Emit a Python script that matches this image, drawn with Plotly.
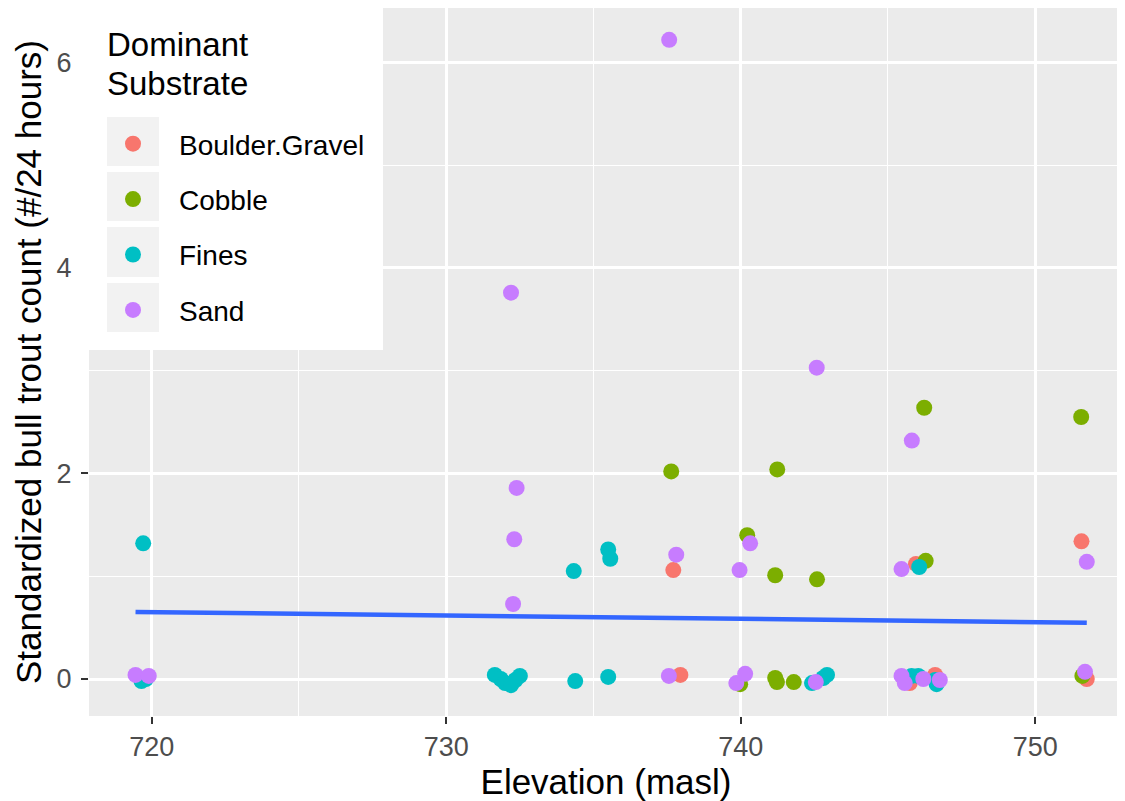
import plotly.graph_objects as go

# ---- data ----
substrates = ["Boulder.Gravel", "Cobble", "Fines", "Sand"]
colors = ["#F8766D", "#7CAE00", "#00BFC4", "#C77CFF"]

boulder_x = [737.71, 737.95, 745.95, 751.57, 745.74, 746.60, 751.75]
boulder_y = [1.06, 0.04, 1.12, 1.34, -0.04, 0.04, 0.00]

cobble_x = [737.64, 740.22, 741.24, 741.17, 742.59, 739.98, 741.17, 741.23, 741.80,
            746.23, 751.56, 746.28, 751.60]
cobble_y = [2.02, 1.40, 2.04, 1.01, 0.97, -0.05, 0.01, -0.03, -0.03,
            2.64, 2.55, 1.15, 0.03]

fines_x = [719.71, 719.65, 719.80, 731.65, 731.85, 732.00, 732.20, 732.35, 732.50,
           734.33, 735.50, 735.57, 734.38, 735.50, 742.42, 742.80, 742.93,
           746.06, 745.80, 746.03, 746.60, 746.65]
fines_y = [1.32, -0.02, 0.00, 0.04, 0.00, -0.04, -0.06, -0.01, 0.03,
           1.05, 1.26, 1.17, -0.02, 0.02, -0.04, 0.01, 0.04,
           1.09, 0.03, 0.03, -0.01, -0.05]

sand_x = [737.57, 732.20, 742.58, 745.81, 732.39, 732.31, 732.27, 737.81, 739.96,
          740.32, 745.46, 751.75, 719.45, 719.90, 737.56, 739.85, 740.15, 742.55,
          745.46, 745.57, 746.20, 746.76, 751.69]
sand_y = [6.22, 3.76, 3.03, 2.32, 1.86, 1.36, 0.73, 1.21, 1.06,
          1.32, 1.07, 1.14, 0.04, 0.03, 0.03, -0.04, 0.05, -0.03,
          0.03, -0.04, 0.00, -0.01, 0.07]

fit_x = [719.45, 751.75]
fit_y = [0.652, 0.548]

x_ticks = [720, 730, 740, 750]
y_ticks = [0, 2, 4, 6]

series_x = [boulder_x, cobble_x, fines_x, sand_x]
series_y = [boulder_y, cobble_y, fines_y, sand_y]

# ---- layout helpers: page pixels (page has an 8px body margin) -> paper ----
OFF = 8
W, H = 1125 - OFF, 801 - OFF
PL, PR, PT, PB = 89, 1123, 8, 716   # plot area in page pixels
def fx(px):
    return (px - PL) / (PR - PL)
def fy(py):
    return (PB - py) / (PB - PT)

fig = go.Figure()
for name, c, xs, ys in zip(substrates, colors, series_x, series_y):
    fig.add_trace(go.Scatter(x=xs, y=ys, mode="markers", name=name,
                             legendgroup=name,
                             marker=dict(color=c, size=16, line=dict(width=0))))

fig.add_trace(go.Scatter(x=fit_x, y=fit_y, mode="lines", showlegend=False,
                         line=dict(color="#3366FF", width=4.5)))

shapes = [dict(type="rect", xref="paper", yref="paper", x0=fx(80), x1=fx(383),
               y0=fy(350), y1=fy(6), fillcolor="white", line=dict(width=0), layer="above")]
for top, bot in [(117, 166), (172, 221), (227, 277), (283, 332)]:
    shapes.append(dict(type="rect", xref="paper", yref="paper", x0=fx(107), x1=fx(159),
                       y0=fy(bot), y1=fy(top), fillcolor="#F2F2F2", line=dict(width=0),
                       layer="above"))

title_lines = [("Dominant", 44.5), ("Substrate", 83.5)]
annotations = [dict(text=t, xref="paper", yref="paper", x=fx(105), y=fy(yc),
                    xanchor="left", yanchor="middle", align="left", showarrow=False,
                    font=dict(size=33, color="black"))
               for t, yc in title_lines]

font_family = "Liberation Sans, Arial, sans-serif"
fig.update_layout(
    width=W, height=H,
    margin=dict(l=PL - OFF, r=W - (PR - OFF), t=PT - OFF, b=H - (PB - OFF), autoexpand=False),
    paper_bgcolor="white",
    plot_bgcolor="#EBEBEB",
    font=dict(family=font_family, color="black"),
    shapes=shapes,
    annotations=annotations,
    legend=dict(x=fx(87), y=fy(119), xanchor="left", yanchor="top",
                bgcolor="rgba(0,0,0,0)", font=dict(size=28, color="black"),
                tracegroupgap=16, itemwidth=82),
    xaxis=dict(range=[717.87, 752.98], tickvals=x_ticks, ticks="outside", ticklen=7,
               tickwidth=2, tickcolor="#333333", showgrid=True, gridcolor="white",
               gridwidth=2.5, zeroline=False, showline=False,
               tickfont=dict(size=27, color="#4D4D4D"),
               minor=dict(dtick=5, tick0=715, showgrid=True, gridcolor="white", gridwidth=1.2, ticks=""),
               title=dict(text="Elevation (masl)", font=dict(size=35), standoff=4)),
    yaxis=dict(range=[-0.36, 6.53], tickvals=y_ticks, ticks="outside", ticklen=7,
               tickwidth=2, tickcolor="#333333", showgrid=True, gridcolor="white",
               gridwidth=2.5, zeroline=False, showline=False,
               tickfont=dict(size=27, color="#4D4D4D"), ticklabelstandoff=4,
               minor=dict(dtick=1, tick0=1, showgrid=True, gridcolor="white", gridwidth=1.2, ticks=""),
               title=dict(text="Standardized bull trout count (#/24 hours)", font=dict(size=35), standoff=4)),
)

fig.write_html("out.html")
